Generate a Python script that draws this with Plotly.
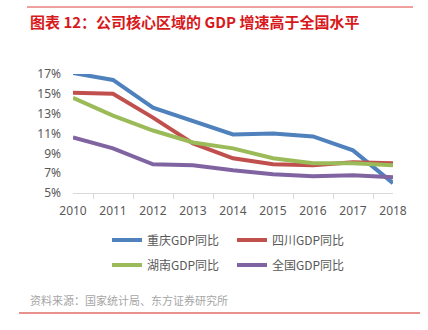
import plotly.graph_objects as go

years = ["2010", "2011", "2012", "2013", "2014", "2015", "2016", "2017", "2018"]
chongqing = [17.1, 16.4, 13.6, 12.3, 10.9, 11.0, 10.7, 9.3, 6.0]
sichuan = [15.1, 15.0, 12.6, 10.0, 8.5, 7.9, 7.8, 8.1, 8.0]
hunan = [14.6, 12.8, 11.3, 10.1, 9.5, 8.5, 8.0, 8.0, 7.8]
national = [10.6, 9.5, 7.9, 7.8, 7.3, 6.9, 6.7, 6.8, 6.6]
y_ticks = [5, 7, 9, 11, 13, 15, 17]
y_tick_labels = [f"{v}%" for v in y_ticks]

series = [
    ("重庆GDP同比", chongqing, "#4F81BD", "legend"),
    ("四川GDP同比", sichuan, "#C0504D", "legend"),
    ("湖南GDP同比", hunan, "#9BBB59", "legend2"),
    ("全国GDP同比", national, "#8064A2", "legend2"),
]

W, H = 428, 330
fig = go.Figure()
for name, vals, color, leg in series:
    fig.add_trace(go.Scatter(
        x=years, y=vals, name=name, mode="lines",
        line=dict(color=color, width=4), cliponaxis=False, legend=leg,
    ))

font_family = "Noto Sans CJK SC, Noto Sans, sans-serif"
tick_font = dict(family="Noto Sans, sans-serif", size=12, color="#595959")
legend_common = dict(
    orientation="h", xref="container", yref="container",
    xanchor="left", yanchor="middle", entrywidth=80, entrywidthmode="pixels",
    font=dict(family=font_family, size=12, color="#595959"),
    bgcolor="rgba(0,0,0,0)", itemclick=False, traceorder="normal",
)

fig.update_layout(
    width=W, height=H,
    margin=dict(l=73, r=35, t=74, b=137),
    paper_bgcolor="white", plot_bgcolor="white",
    font=dict(family=font_family),
    xaxis=dict(
        type="category", showgrid=False, showline=True, linecolor="#D9D9D9",
        linewidth=1, ticks="outside", tickson="boundaries", ticklen=5,
        tickcolor="#D9D9D9", tickfont=tick_font, fixedrange=True,
        ticklabelstandoff=7, automargin=False,
    ),
    yaxis=dict(
        range=[5, 17], tickmode="array", tickvals=y_ticks,
        ticktext=y_tick_labels, showgrid=False,
        showline=False, zeroline=False, tickfont=tick_font, ticks="",
        fixedrange=True, ticklabelstandoff=11, automargin=False,
    ),
    legend=dict(x=107 / W, y=1 - 240 / H, **legend_common),
    legend2=dict(x=107 / W, y=1 - 265 / H, **legend_common),
    shapes=[
        dict(type="line", xref="paper", yref="paper", layer="above",
             x0=(27 - 73) / 320, x1=(413 - 73) / 320,
             y0=1 + (74 - 7) / 119, y1=1 + (74 - 7) / 119,
             line=dict(color="#E0403E", width=1)),
        dict(type="line", xref="paper", yref="paper",
             x0=(19 - 73) / 320, x1=(420 - 73) / 320,
             y0=-(313 - 193) / 119, y1=-(313 - 193) / 119,
             line=dict(color="#E8908E", width=2)),
    ],
    annotations=[
        dict(text="<b>图表 12：公司核心区域的 GDP 增速高于全国水平</b>",
             xref="paper", yref="paper", x=(28 - 73) / 320, y=1 + (74 - 21) / 119,
             xanchor="left", yanchor="middle", showarrow=False,
             font=dict(family=font_family, size=15, color="#D7191C")),
        dict(text="资料来源：国家统计局、东方证券研究所",
             xref="paper", yref="paper", x=(28 - 73) / 320, y=-(300 - 193) / 119,
             xanchor="left", yanchor="middle", showarrow=False,
             font=dict(family=font_family, size=11, color="#A6A6A6")),
    ],
)

fig.write_html("out.html", config={"displayModeBar": False})
